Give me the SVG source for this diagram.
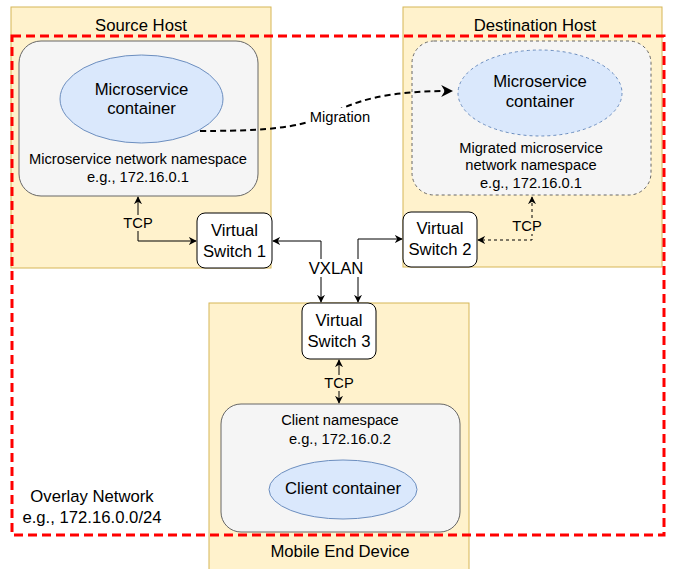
<svg xmlns="http://www.w3.org/2000/svg" width="674" height="569" viewBox="0 0 674 569">
<defs>
<style>
text{font-family:"Liberation Sans",Arial,Helvetica,sans-serif;fill:#000;text-anchor:middle}
.t16{font-size:16.7px}
.t14{font-size:14.7px}
.host{fill:#fff2cc;stroke:#d6b656;stroke-width:1}
.ns{fill:#f5f5f5;stroke:#666666;stroke-width:1}
.nsd{fill:#f5f5f5;stroke:#666666;stroke-width:1;stroke-dasharray:3 3}
.ctr{fill:#dae8fc;stroke:#6c8ebf;stroke-width:1}
.ctrd{fill:#dae8fc;stroke:#6c8ebf;stroke-width:1;stroke-dasharray:3 3}
.sw{fill:#ffffff;stroke:#000;stroke-width:1}
.overlay{fill:none;stroke:#ff0000;stroke-width:3;stroke-dasharray:9 5}
.edge{fill:none;stroke:#000;stroke-width:1}
.dash{stroke-dasharray:3 3}
.mig{stroke-dasharray:6 4;stroke-width:2}
</style>
<marker id="arr" viewBox="0 0 10 10" refX="9" refY="5" markerWidth="8" markerHeight="8" markerUnits="userSpaceOnUse" orient="auto-start-reverse">
<path d="M0,0 L10,5 L0,10 L3,5 Z" fill="#000"/>
</marker>
<marker id="arrB" viewBox="0 0 10 10" refX="9" refY="5" markerWidth="6" markerHeight="6" orient="auto">
<path d="M0,0 L10,5 L0,10 L3,5 Z" fill="#000"/>
</marker>
</defs>

<g id="source-host">
<rect class="host" x="11" y="7" width="260" height="261"/>
<text class="t16" x="141" y="31">Source Host</text>
</g>
<g id="destination-host">
<rect class="host" x="403" y="7" width="259" height="260"/>
<text class="t16" x="535" y="31">Destination Host</text>
</g>
<g id="mobile-end-device">
<rect class="host" x="209" y="303" width="260" height="275"/>
<text class="t16" x="340" y="557">Mobile End Device</text>
</g>

<g id="overlay-network">
<rect class="overlay" x="12" y="36" width="652" height="499"/>
<text class="t16" x="92" y="502">Overlay Network</text>
<text class="t16" x="92" y="523">e.g., 172.16.0.0/24</text>
</g>

<g id="microservice-namespace">
<rect class="ns" x="19" y="41" width="239" height="155" rx="22" ry="22"/>
<text class="t14" x="138" y="164">Microservice network namespace</text>
<text class="t14" x="138" y="182">e.g., 172.16.0.1</text>
</g>
<g id="microservice-container">
<ellipse class="ctr" cx="141.5" cy="99" rx="81.5" ry="44"/>
<text class="t16" x="141.5" y="95">Microservice</text>
<text class="t16" x="141.5" y="114">container</text>
</g>

<g id="migrated-namespace">
<rect class="nsd" x="412" y="41" width="239" height="154" rx="22" ry="22"/>
<text class="t14" x="531" y="153">Migrated microservice</text>
<text class="t14" x="531" y="170">network namespace</text>
<text class="t14" x="531" y="188">e.g., 172.16.0.1</text>
</g>
<g id="migrated-container">
<ellipse class="ctrd" cx="540" cy="93" rx="82" ry="43"/>
<text class="t16" x="540" y="87">Microservice</text>
<text class="t16" x="540" y="107">container</text>
</g>

<g id="client-namespace">
<rect class="ns" x="221" y="404" width="239" height="128" rx="20" ry="20"/>
<text class="t14" x="340" y="425">Client namespace</text>
<text class="t14" x="340" y="444">e.g., 172.16.0.2</text>
</g>
<g id="client-container">
<ellipse class="ctr" cx="343" cy="489.5" rx="74" ry="29.5"/>
<text class="t16" x="343" y="494">Client container</text>
</g>

<g id="virtual-switch-1">
<rect class="sw" x="197" y="213" width="75" height="55" rx="8" ry="8"/>
<text class="t16" x="234.5" y="236">Virtual</text>
<text class="t16" x="234.5" y="257">Switch 1</text>
</g>
<g id="virtual-switch-2">
<rect class="sw" x="403" y="212" width="74" height="55" rx="8" ry="8"/>
<text class="t16" x="440" y="234">Virtual</text>
<text class="t16" x="440" y="255">Switch 2</text>
</g>
<g id="virtual-switch-3">
<rect class="sw" x="302" y="303" width="74" height="56" rx="8" ry="8"/>
<text class="t16" x="339" y="326">Virtual</text>
<text class="t16" x="339" y="347">Switch 3</text>
</g>

<g id="connectors">
<path class="edge" d="M138,197 L138,241 L196,241" marker-start="url(#arr)" marker-end="url(#arr)"/>
<rect x="122" y="215" width="32" height="16" fill="#fff2cc"/>
<text class="t14" x="138" y="228">TCP</text>
<path class="edge dash" d="M532,197 L532,240 L478,240" marker-start="url(#arr)" marker-end="url(#arr)"/>
<rect x="511" y="218" width="32" height="16" fill="#fff2cc"/>
<text class="t14" x="527" y="231">TCP</text>
<path class="edge" d="M339,360 L339,403" marker-start="url(#arr)" marker-end="url(#arr)"/>
<rect x="323" y="375" width="32" height="16" fill="#fff2cc"/>
<text class="t14" x="339" y="388">TCP</text>
<path class="edge" d="M321,302 L321,241 L273,241" marker-start="url(#arr)" marker-end="url(#arr)"/>
<path class="edge" d="M358,302 L358,239 L402,239" marker-start="url(#arr)" marker-end="url(#arr)"/>
<rect x="306" y="259" width="62" height="18" fill="#ffffff"/>
<text class="t16" x="336" y="274">VXLAN</text>
<path class="edge mig" d="M200,131 C290,131 305,124 330,114 C355,102 380,91 452,91" marker-end="url(#arrB)"/>
<rect x="306" y="108" width="68" height="18" fill="#ffffff"/>
<text class="t14" x="340" y="122">Migration</text>
</g>
</svg>
